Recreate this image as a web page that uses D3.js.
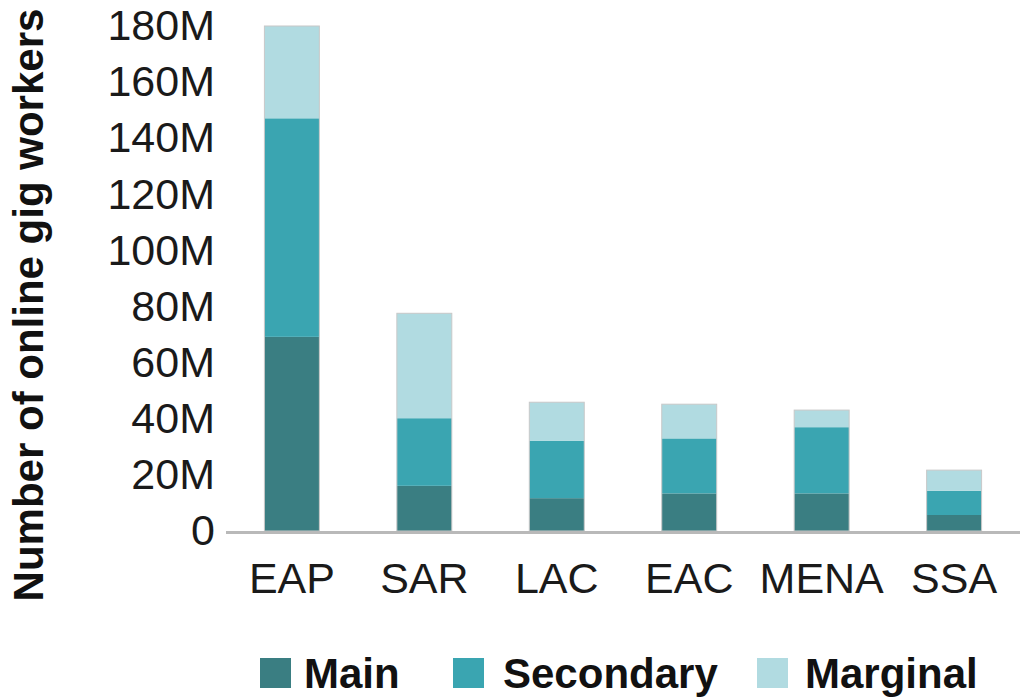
<!DOCTYPE html>
<html>
<head>
<meta charset="utf-8">
<script src="https://cdn.jsdelivr.net/npm/d3@7"></script>
<style>
  html, body { margin: 0; padding: 0; background: #fff; }
  svg { display: block; font-family: "Liberation Sans", Arial, sans-serif; }
</style>
</head>
<body>
<svg id="chart" width="1023" height="698"></svg>
<script>
// Online gig workers by region, split by engagement type (millions)
const regions = ["EAP", "SAR", "LAC", "EAC", "MENA", "SSA"];
const seriesNames = ["Main", "Secondary", "Marginal"];
const mainWorkers = [69.2, 16.1, 11.7, 13.4, 13.4, 5.7];
const secondaryWorkers = [77.9, 24.1, 20.4, 19.6, 23.6, 8.6];
const marginalWorkers = [32.9, 37.4, 13.8, 12.2, 6.1, 7.4];
const yTicks = [0, 20, 40, 60, 80, 100, 120, 140, 160, 180];
const colors = ["#3a7e82", "#3aa5b1", "#b1dbe1"];

const rows = regions.map((r, i) => ({
  region: r,
  Main: mainWorkers[i],
  Secondary: secondaryWorkers[i],
  Marginal: marginalWorkers[i]
}));

const svg = d3.select("#chart");

const x = d3.scaleBand().domain(regions).range([226, 1020]).paddingInner(0.585).paddingOuter(0.29);
const y = d3.scaleLinear().domain([0, 180]).range([531, 26]);

const stacked = d3.stack().keys(seriesNames)(rows);

// stacked bars
const layers = svg.append("g").selectAll("g")
  .data(stacked)
  .join("g")
  .attr("fill", (d, i) => colors[i]);

layers.selectAll("rect")
  .data(d => d)
  .join("rect")
  .attr("x", d => x(d.data.region))
  .attr("width", x.bandwidth())
  .attr("y", d => y(d[1]))
  .attr("height", d => y(d[0]) - y(d[1]));

// faint outline around each full bar
svg.append("g").selectAll("rect")
  .data(rows)
  .join("rect")
  .attr("x", d => x(d.region))
  .attr("width", x.bandwidth())
  .attr("y", d => y(d.Main + d.Secondary + d.Marginal))
  .attr("height", d => y(0) - y(d.Main + d.Secondary + d.Marginal))
  .attr("fill", "none")
  .attr("stroke", "#c8c8c8")
  .attr("stroke-width", 1);

// baseline
svg.append("line")
  .attr("x1", 226).attr("x2", 1020)
  .attr("y1", y(0) + 1.5).attr("y2", y(0) + 1.5)
  .attr("stroke", "#b9b9b9")
  .attr("stroke-width", 3);

// y axis labels
const yAxis = d3.axisLeft(y)
  .tickValues(yTicks)
  .tickSize(0)
  .tickPadding(0)
  .tickFormat(d => d === 0 ? "0" : d + "M");

svg.append("g")
  .attr("transform", "translate(215,0)")
  .call(yAxis)
  .call(g => g.select(".domain").remove())
  .call(g => g.selectAll("text")
    .attr("font-family", "Liberation Sans, Arial, sans-serif")
    .attr("font-size", 43)
    .attr("fill", "#1a1a1a"));

// x axis labels
const xAxis = d3.axisBottom(x).tickSize(0).tickPadding(0);
svg.append("g")
  .attr("transform", "translate(0,562)")
  .call(xAxis)
  .call(g => g.select(".domain").remove())
  .call(g => g.selectAll("text")
    .attr("font-family", "Liberation Sans, Arial, sans-serif")
    .attr("font-size", 43)
    .attr("dy", "0.72em")
    .attr("fill", "#1a1a1a"));

// y axis title
svg.append("text")
  .attr("transform", "translate(43,305) rotate(-90)")
  .attr("text-anchor", "middle")
  .attr("font-size", 42)
  .attr("font-weight", "bold")
  .attr("fill", "#111")
  .text("Number of online gig workers");

// legend
const legendItems = [
  { name: "Main", sx: 260, tx: 304 },
  { name: "Secondary", sx: 453, tx: 503 },
  { name: "Marginal", sx: 757, tx: 805 }
];
const legend = svg.append("g");
legendItems.forEach((item, i) => {
  legend.append("rect")
    .attr("x", item.sx).attr("y", 658)
    .attr("width", 31).attr("height", 30)
    .attr("fill", colors[i]);
  legend.append("text")
    .attr("x", item.tx).attr("y", 688)
    .attr("font-size", 42)
    .attr("font-weight", "bold")
    .attr("fill", "#111")
    .text(item.name);
});
</script>
</body>
</html>
